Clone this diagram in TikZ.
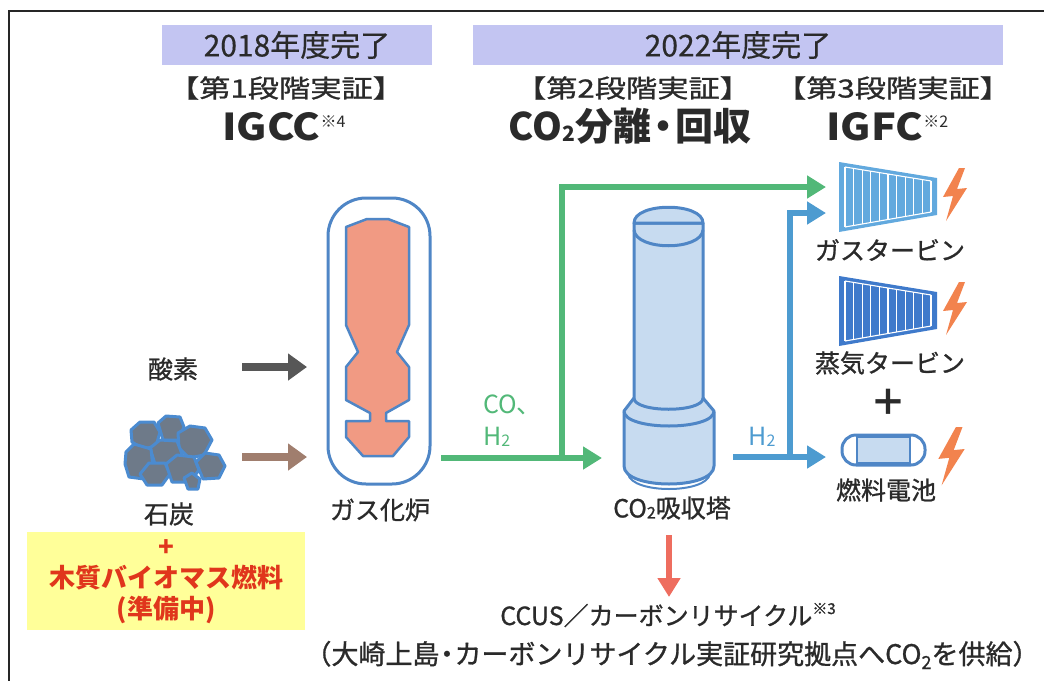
\documentclass[tikz,border=0pt]{standalone}
\usepackage{fontspec}
\usepackage{graphicx}
\setmainfont{Noto Sans CJK JP}
\usetikzlibrary{arrows.meta}

\definecolor{ink}{HTML}{2A2A2A}
\definecolor{hdrfill}{HTML}{C3C5F2}
\definecolor{vblue}{HTML}{4F86C6}
\definecolor{salmon}{HTML}{F19A83}
\definecolor{gline}{HTML}{52B878}
\definecolor{bline}{HTML}{4D9BD0}
\definecolor{gasturb}{HTML}{62A9DE}
\definecolor{steamturb}{HTML}{3F7ACB}
\definecolor{boltc}{HTML}{F2834E}
\definecolor{colfill}{HTML}{C7DBF0}
\definecolor{coalfill}{HTML}{6E7A89}
\definecolor{coaledge}{HTML}{4B8BD0}
\definecolor{biored}{HTML}{E0361C}
\definecolor{bioyellow}{HTML}{FFFF99}
\definecolor{ccred}{HTML}{EE6D5F}
\definecolor{oxgray}{HTML}{575757}
\definecolor{coalbrown}{HTML}{A07E6E}

\newcommand{\semibold}{\addfontfeature{FakeBold=1}}

\tikzset{
  hdrbox/.style={fill=hdrfill, text=ink, inner sep=0pt, font=\fontsize{30}{32}\selectfont\addfontfeature{FakeBold=0.4}},
  stagelbl/.style={text=ink, inner sep=0pt, font=\fontsize{25}{27}\selectfont\semibold},
  bigttl/.style={text=ink, inner sep=0pt, font=\fontsize{37}{40}\selectfont\bfseries},
  lbl/.style={text=ink, inner sep=0pt, font=\fontsize{25}{27}\selectfont\semibold},
  biolbl/.style={text=biored, inner sep=0pt, font=\fontsize{26}{28}\selectfont\bfseries},
  flow/.style={line width=6pt, line join=miter, -{Triangle[length=19pt,width=22pt]}},
  feed/.style={line width=8pt, -{Triangle[length=19pt,width=26pt]}},
  stone/.style={fill=coalfill, draw=coaledge, line width=3pt, line join=round},
  vessel/.style={fill=colfill, draw=vblue, line width=3pt, line join=round},
  sparkbolt/.pic={\fill[boltc] (19,0) -- (3,29) -- (13,28) -- (6,53) -- (27,20) -- (17,21) -- (25,0) -- cycle;}
}

% trapezoidal turbine with white blade stripes; #1 colour, #2 centre y
\newcommand{\drawturbine}[2]{%
  \fill[#1] (839,#2-35) -- (937,#2-19) -- (937,#2+18) -- (839,#2+35) -- cycle;
  \draw[white, line width=1.1pt] (845,#2-30) -- (931,#2-16) (845,#2+30) -- (931,#2+15);
  \foreach \i in {0,...,10}{%
    \pgfmathsetmacro\xx{845+\i*8.6}%
    \pgfmathsetmacro\yt{#2-30+(\xx-845)*14/86}%
    \pgfmathsetmacro\yb{#2+30-(\xx-845)*15/86}%
    \draw[white, line width=1.1pt] (\xx,\yt) -- (\xx,\yb);
  }%
}

\begin{document}
\begin{tikzpicture}[x=1pt,y=-1pt]
\useasboundingbox (0,0) rectangle (1044,680);

% outer frame
\draw[line width=2pt, black!85] (9,682) -- (9,11) -- (1046,11);

% period headers
\node[hdrbox, minimum width=270pt, minimum height=40pt] (h1) at (297,45) {2018年度完了};
\node[hdrbox, minimum width=530pt, minimum height=40pt] (h2) at (738,45) {2022年度完了};

% stage labels
\node[stagelbl] (s1) at (286,88) {\scalebox{1.25}[1]{【第1段階実証】}};
\node[stagelbl] (s2) at (633,88) {\scalebox{1.25}[1]{【第2段階実証】}};
\node[stagelbl] (s3) at (893,88) {\scalebox{1.25}[1]{【第3段階実証】}};

\node[bigttl, anchor=base west] (t1) at (222,140) {\scalebox{1.12}[1]{IGCC}\raisebox{13pt}{\fontsize{16}{16}\selectfont\mdseries ※4}};
\node[bigttl, font=\fontsize{38}{40}\selectfont\bfseries, anchor=base] (t2) at (630,140) {CO\raisebox{-1pt}{\fontsize{21}{21}\selectfont 2}分離\kern-7pt・\kern-7pt回収};
\node[bigttl, anchor=base west] (t3) at (826,140) {\scalebox{1.12}[1]{IGFC}\raisebox{13pt}{\fontsize{16}{16}\selectfont\mdseries ※2}};

% gasifier
\node[draw=vblue, line width=3pt, fill=white, rounded corners=38pt,
      minimum width=102pt, minimum height=286pt, inner sep=0pt] (gasifier) at (379,341) {};
\filldraw[fill=salmon, draw=vblue, line width=2.5pt, line join=round]
  (346,227) -- (367,219) -- (388,219) -- (409,227) -- (409,325) -- (397,352)
  -- (409,367) -- (409,400) -- (386,413) -- (386,421) -- (409,421) -- (409,437)
  -- (393,456) -- (363,456) -- (346,437) -- (346,421) -- (370,421) -- (370,413)
  -- (346,400) -- (346,367) -- (358,352) -- (346,325) -- cycle;
\node[lbl] (gaslbl) at (380,510) {ガス化炉};

% feeds: oxygen and coal
\node[lbl] (oxy) at (173,369) {酸素};
\coordinate (oxyS) at (242,367);
\coordinate (oxyE) at (307,367);
\draw[feed, oxgray] (oxyS) -- (oxyE);

\foreach \p in {
  {(131,430)--(140,422)--(154,422)--(160,432)--(156,446)--(143,449)--(132,442)--cycle},
  {(158,423)--(166,416)--(180,417)--(184,427)--(178,440)--(163,440)--cycle},
  {(178,433)--(190,426)--(205,428)--(212,440)--(204,455)--(189,458)--(179,448)--cycle},
  {(150,448)--(160,440)--(177,441)--(182,454)--(172,466)--(155,464)--cycle},
  {(126,452)--(134,444)--(151,449)--(153,468)--(144,479)--(129,477)--(125,464)--cycle},
  {(140,474)--(149,463)--(165,463)--(170,474)--(162,485)--(147,485)--cycle},
  {(166,464)--(177,455)--(194,457)--(199,470)--(190,482)--(172,482)--cycle},
  {(196,462)--(205,453)--(219,455)--(225,466)--(219,478)--(203,479)--cycle},
  {(184,478)--(192,473)--(200,479)--(198,489)--(188,489)--cycle}}
  \filldraw[stone] \p;
\node[lbl] (coal) at (169,514) {石炭};
\coordinate (coalS) at (242,457);
\coordinate (coalE) at (307,457);
\draw[feed, coalbrown] (coalS) -- (coalE);

% biomass note
\node[fill=bioyellow, minimum width=278pt, minimum height=98pt, inner sep=0pt] (biobox) at (166,581) {};
\node[biolbl] (bplus) at (166,548) {+};
\node[biolbl] (bio) at (166,578) {木質バイオマス燃料};
\node[biolbl] (prep) at (166,610) {(準備中)};

% syngas line from gasifier to absorber and bypass to gas turbine
\coordinate (synS) at (441,458);
\coordinate (absIn) at (602,458);
\coordinate (split) at (562,461);
\coordinate (gtInA) at (826,187);
\draw[flow, gline] (synS) -- (absIn);
\draw[flow, gline] (split) |- (gtInA);
\node[text=gline, inner sep=0pt, font=\fontsize{25}{27}\selectfont, anchor=west] (cocolon) at (483,405) {CO、};
\node[text=gline, inner sep=0pt, font=\fontsize{25}{27}\selectfont, anchor=west] (h2a) at (483,437) {H\raisebox{-1pt}{\fontsize{16}{16}\selectfont 2}};

% CO2 absorber column
\filldraw[vessel] (624,412) -- (624,466) .. controls (624,490) and (714,490) .. (714,466) -- (714,412) -- cycle;
\draw[vblue, line width=2pt] (628,474) .. controls (632,494) and (706,494) .. (710,474);
\filldraw[vessel] (634,398) -- (624,411) .. controls (624,431) and (714,431) .. (714,411) -- (703,398) -- cycle;
\filldraw[vessel] (634,223) -- (634,398) .. controls (634,413) and (703,413) .. (703,398) -- (703,223) -- cycle;
\filldraw[vessel] (634,223) .. controls (634,202) and (703,202) .. (703,223) -- cycle;
\draw[vblue, line width=3pt] (634,230) .. controls (636,251) and (701,251) .. (703,230);
\node[lbl] (abslbl) at (672,508) {CO\raisebox{-1pt}{\fontsize{16}{16}\selectfont 2}吸収塔};

% hydrogen line to gas turbine and fuel cell
\coordinate (h2S) at (733,457);
\coordinate (fcIn) at (826,457);
\coordinate (h2split) at (790,460);
\coordinate (gtInB) at (826,213);
\draw[flow, bline] (h2S) -- (fcIn);
\draw[flow, bline] (h2split) |- (gtInB);
\node[text=bline, inner sep=0pt, font=\fontsize{25}{27}\selectfont] (h2b) at (762,437) {H\raisebox{-1pt}{\fontsize{16}{16}\selectfont 2}};

% turbines
\drawturbine{gasturb}{197}
\pic at (940,168) {sparkbolt};
\node[lbl] (gtlbl) at (890,250) {ガスタービン};
\drawturbine{steamturb}{311}
\pic at (940,282) {sparkbolt};
\node[lbl] (stlbl) at (890,363) {蒸気タービン};
\node[text=ink, inner sep=0pt, font=\fontsize{36}{36}\selectfont\bfseries] (plus) at (888,402) {＋};

% fuel cell
\draw[fill=white, draw=vblue, line width=3pt, rounded corners=14pt] (842,435) rectangle (925,465);
\filldraw[fill=colfill, draw=vblue, line width=2.5pt] (857,437) rectangle (910,463);
\pic[scale=1.1] at (935,427) {sparkbolt};
\node[lbl] (fclbl) at (886,490) {燃料電池};

% CO2 to utilisation
\coordinate (ccS) at (669,535);
\coordinate (ccE) at (669,597);
\draw[flow, ccred] (ccS) -- (ccE);
\node[lbl, anchor=base] (ccus) at (668,625) {CCUS／カーボンリサイクル\raisebox{11pt}{\fontsize{15}{15}\selectfont ※3}};
\node[lbl, font=\fontsize{27}{29}\selectfont\semibold, anchor=base] (osaki) at (672,664) {（大崎上島\kern-6pt・\kern-6ptカーボンリサイクル実証研究拠点へCO\raisebox{-5pt}{\fontsize{18}{18}\selectfont 2}を供給）};
\end{tikzpicture}
\end{document}
